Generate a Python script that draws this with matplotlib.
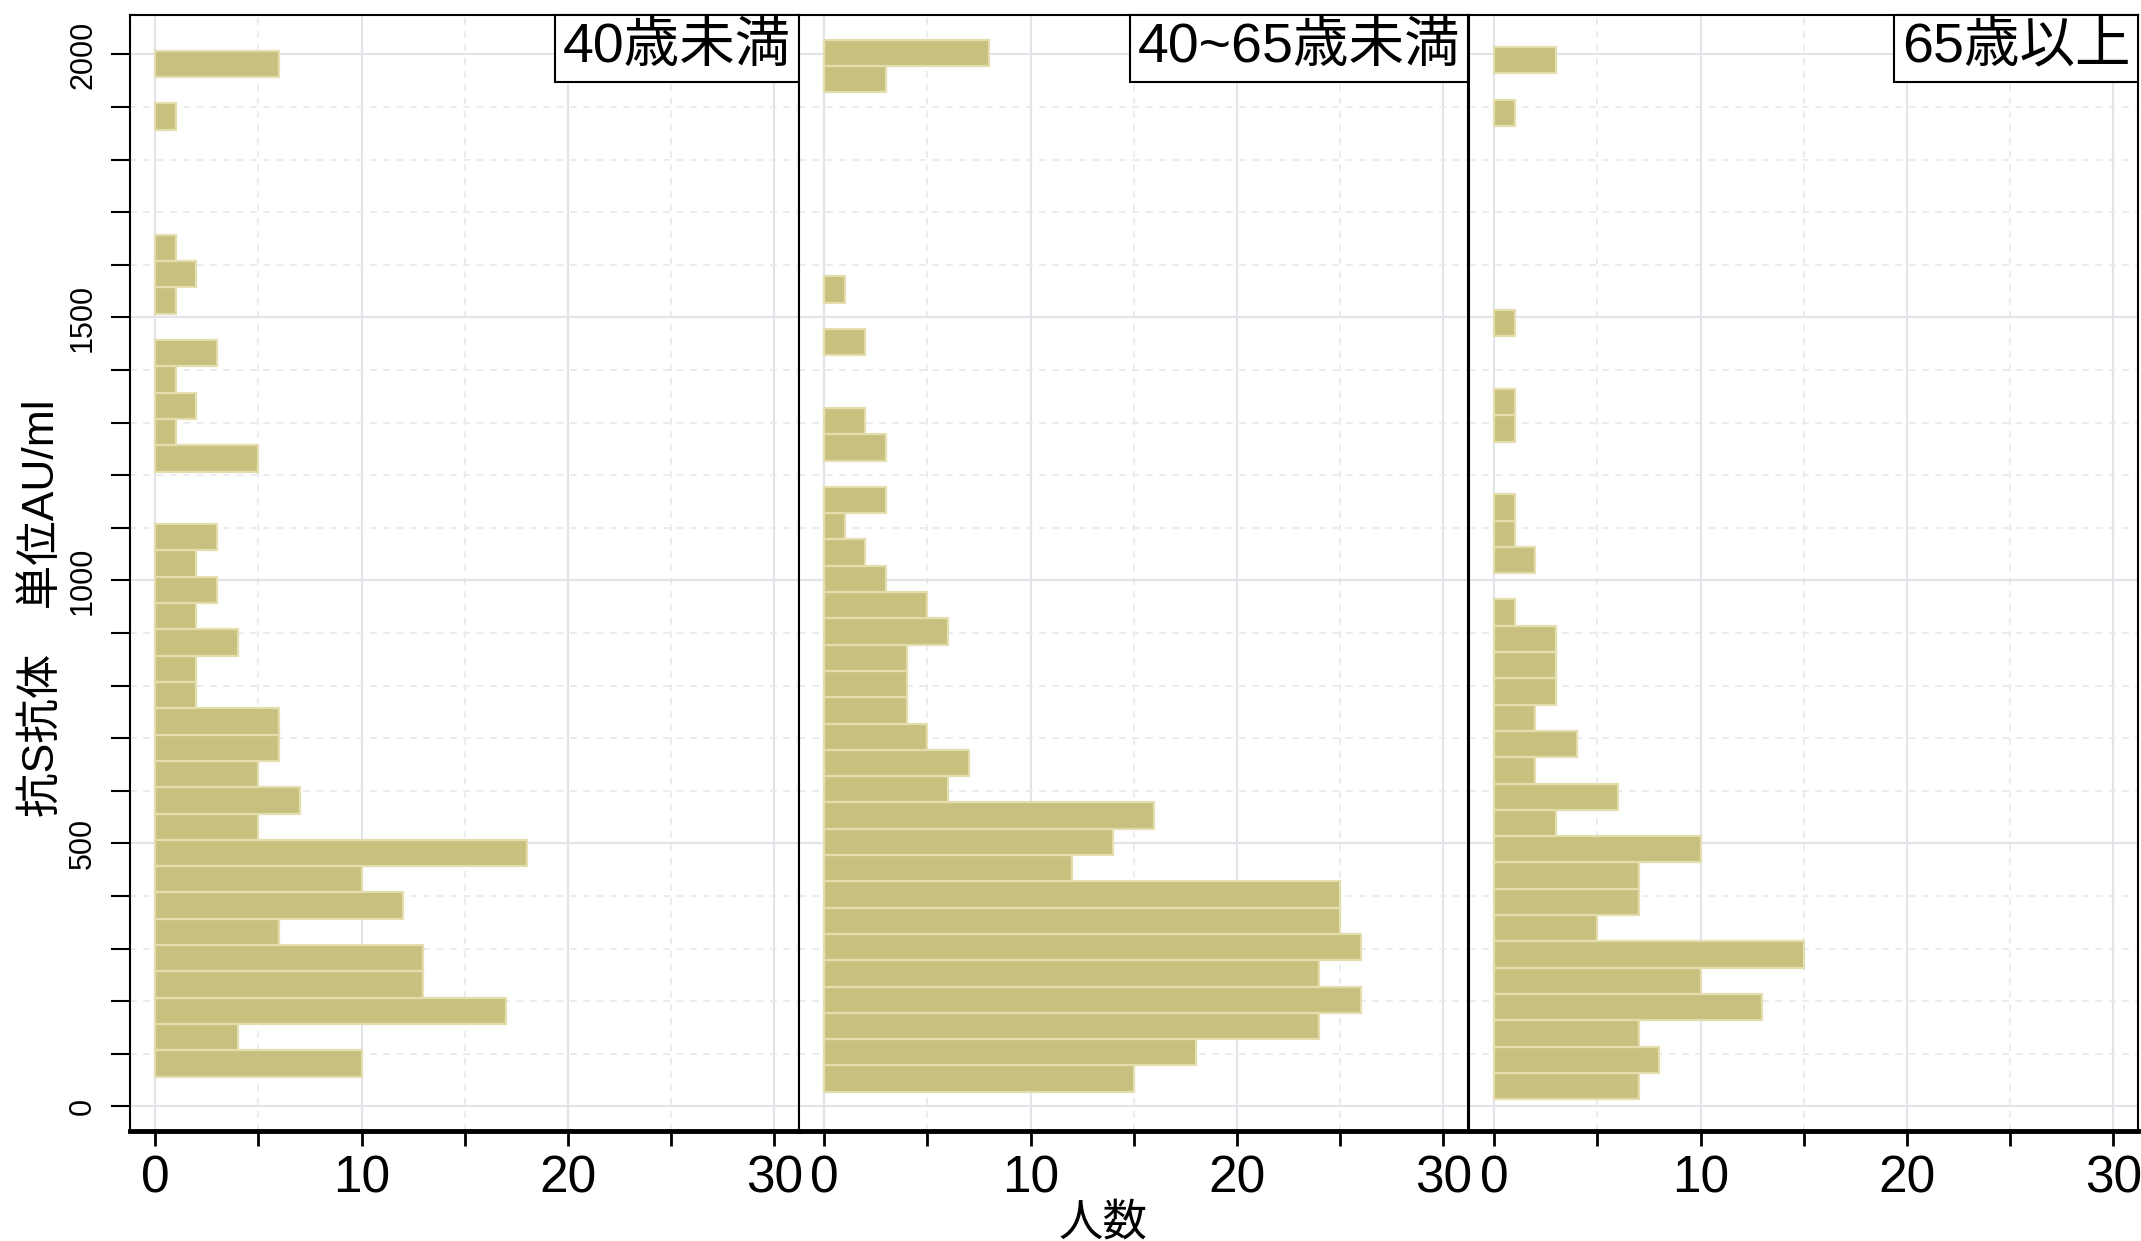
import matplotlib
matplotlib.use('Agg')
import matplotlib.pyplot as plt
from matplotlib.offsetbox import AnchoredText
from matplotlib.ticker import MultipleLocator

# histogram counts per age group, bins of 50 AU/ml starting at bin_start
groups = ['40歳未満', '40~65歳未満', '65歳以上']
bin_width = 50
bin_start = [57, 28, 14]

counts_u40 = [10, 4, 17, 13, 13, 6, 12, 10, 18, 5, 7, 5, 6, 6, 2, 2, 4, 2, 3, 2,
              3, 0, 0, 5, 1, 2, 1, 3, 0, 1, 2, 1, 0, 0, 0, 0, 1, 0, 6]
counts_40_65 = [15, 18, 24, 26, 24, 26, 25, 25, 12, 14, 16, 6, 7, 5, 4, 4, 4, 6, 5, 3,
                2, 1, 3, 0, 3, 2, 0, 0, 2, 0, 1, 0, 0, 0, 0, 0, 0, 0, 3, 8]
counts_65 = [7, 8, 7, 13, 10, 15, 5, 7, 7, 10, 3, 6, 2, 4, 2, 3, 3, 3, 1, 0,
             2, 1, 1, 0, 0, 1, 1, 0, 0, 1, 0, 0, 0, 0, 0, 0, 0, 1, 0, 3]
all_counts = [counts_u40, counts_40_65, counts_65]

x_ticks = [0, 10, 20, 30]
y_ticks = [0, 500, 1000, 1500, 2000]

fonts = ['Liberation Sans', 'Noto Sans CJK JP']
plt.rcParams['font.family'] = fonts

W, H = 2141, 1241
fig = plt.figure(figsize=(W / 100, H / 100), dpi=100)

bar_col = '#c8c07e'
edge_col = '#e4deae'
lefts = [130, 799, 1469]
pw = 669
bot, top = 1131, 14.5

for n, (label, counts, start) in enumerate(zip(groups, all_counts, bin_start)):
    ax = fig.add_axes([lefts[n] / W, 1 - bot / H, pw / W, (bot - top) / H])
    # skip empty bins so they don't leave an outline
    edges = [start + bin_width * k for k, c in enumerate(counts) if c > 0]
    vals = [c for c in counts if c > 0]
    ax.barh(edges, vals, height=bin_width, align='edge', color=bar_col,
            edgecolor=edge_col, linewidth=1.6, zorder=2)

    ax.set_xlim(-1.22, 31.2)
    ax.set_ylim(-46.6, 2076)
    ax.set_xticks(x_ticks)
    ax.xaxis.set_minor_locator(MultipleLocator(5))
    ax.set_yticks(y_ticks)
    ax.yaxis.set_minor_locator(MultipleLocator(100))

    ax.set_axisbelow(True)
    ax.grid(which='major', color='#e3e3ea', lw=1.5, ls='-', zorder=0)
    ax.grid(which='minor', color='#e8e8ee', lw=1.2, ls=(0, (4, 4)), zorder=0)

    ax.tick_params(axis='x', which='both', length=11, width=2, direction='out',
                   pad=6, labelsize=37, color='black')
    if n == 0:
        ax.tick_params(axis='y', which='both', length=14, width=1.5, direction='out',
                       pad=9, labelsize=22, labelrotation=90)
        for t in ax.get_yticklabels():
            t.set_va('center')
    else:
        ax.tick_params(axis='y', which='both', length=0, labelleft=False)

    for s in ['left', 'right', 'top']:
        ax.spines[s].set_linewidth(1.5)
        ax.spines[s].set_color('black')
    ax.spines['bottom'].set_linewidth(3.5)

    at = AnchoredText(label, loc='upper right', pad=0.14, borderpad=0,
                      prop=dict(size=40))
    at.patch.set_boxstyle('square,pad=0')
    at.patch.set_linewidth(1.5)
    at.zorder = 5
    ax.add_artist(at)

fig.text(42 / W, 1 - 608 / H, '抗S抗体　単位AU/ml', rotation=90, ha='center',
         va='center', fontsize=32)
fig.text(1103 / W, 1 - 1224 / H, '人数', ha='center', va='center', fontsize=32)

fig.savefig('out.png', dpi=100, facecolor='white')
